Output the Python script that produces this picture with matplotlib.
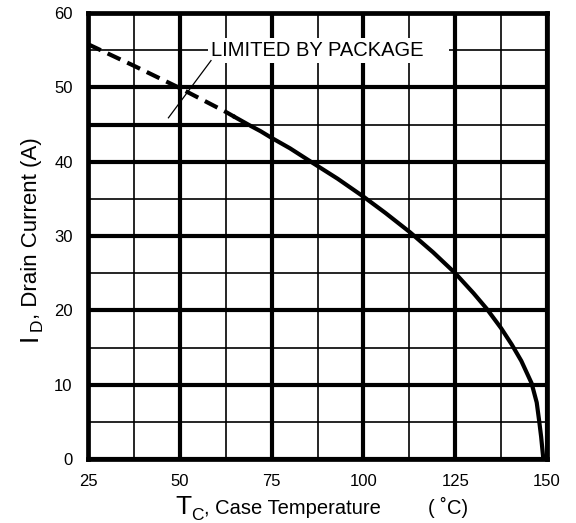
import matplotlib
matplotlib.use("Agg")
import matplotlib.pyplot as plt
from matplotlib.ticker import MultipleLocator

plt.rcParams["font.family"] = ["Liberation Sans", "DejaVu Sans"]

# derating curve
dash_T = [25, 37.5, 50, 62.5, 65]
dash_I = [55.8, 52.9, 49.9, 46.7, 46.0]
solid_T = [65, 68.6, 72, 75, 80, 86.3, 93, 100, 106, 112.7, 119, 125, 130, 133.6,
           137.5, 140.4, 143, 145.8, 147.2, 147.9, 148.4, 149.0]
solid_I = [46.0, 45.0, 44.1, 43.2, 41.8, 39.8, 37.7, 35.3, 33.1, 30.5, 27.8, 25.0, 22.3, 20.2,
           17.6, 15.4, 13.2, 10.2, 7.6, 5.0, 3.0, 0.0]

# package limit
limit_T = [25, 68.6]
limit_I = [45, 45]

x_ticks = [25, 50, 75, 100, 125, 150]
y_ticks = [0, 10, 20, 30, 40, 50, 60]

fig = plt.figure(figsize=(5.76, 5.23), dpi=100)
ax = fig.add_axes([88 / 576, 1 - 459 / 523, (547 - 88) / 576, (459 - 13) / 523])

ax.set_xlim(25, 150)
ax.set_ylim(0, 60)
ax.set_xticks(x_ticks)
ax.set_yticks(y_ticks)
ax.xaxis.set_minor_locator(MultipleLocator(12.5))
ax.yaxis.set_minor_locator(MultipleLocator(5))
ax.tick_params(which="both", length=0, labelsize=12, colors="black")
ax.tick_params(axis="x", pad=11)
ax.tick_params(axis="y", pad=11)
ax.grid(which="major", color="black", lw=3.0)
ax.grid(which="minor", color="black", lw=1.2)
ax.set_axisbelow(True)
for s in ax.spines.values():
    s.set_linewidth(3.4)

ax.plot(limit_T, limit_I, color="black", lw=3.0, solid_capstyle="butt", zorder=3)
ax.plot(dash_T, dash_I, color="black", lw=3.0, ls=(0, (3.4, 1.8)), zorder=3)
ax.plot(solid_T, solid_I, color="black", lw=3.0, solid_joinstyle="round", zorder=3)

ax.text(58.5, 54.2, "LIMITED BY PACKAGE    ", fontsize=14.5, ha="left", va="baseline",
        bbox=dict(facecolor="white", edgecolor="none", boxstyle="square,pad=0.15"), zorder=4)
ax.plot([58.5, 46.9], [53.6, 45.9], color="black", lw=0.9, zorder=4)

# x label pieces
H = 523
fig.text(175 / 576, (H - 514) / H, "T", fontsize=19, ha="left", va="baseline")
fig.text(191 / 576, (H - 520) / H, "C", fontsize=12.5, ha="left", va="baseline")
fig.text(204 / 576, (H - 514) / H, ", Case Temperature", fontsize=14.5, ha="left", va="baseline")
fig.text(428 / 576, (H - 514) / H, "( \u02daC)", fontsize=14.5, ha="left", va="baseline")

# y label pieces
fig.text(37 / 576, (H - 341) / H, "I", fontsize=19, rotation=90, rotation_mode="anchor",
         ha="left", va="baseline")
fig.text(42 / 576, (H - 331) / H, "D", fontsize=12.5, rotation=90, rotation_mode="anchor",
         ha="left", va="baseline")
fig.text(37 / 576, (H - 319) / H, ", Drain Current (A)", fontsize=16, rotation=90,
         rotation_mode="anchor", ha="left", va="baseline")

fig.savefig("out.png", dpi=100)
